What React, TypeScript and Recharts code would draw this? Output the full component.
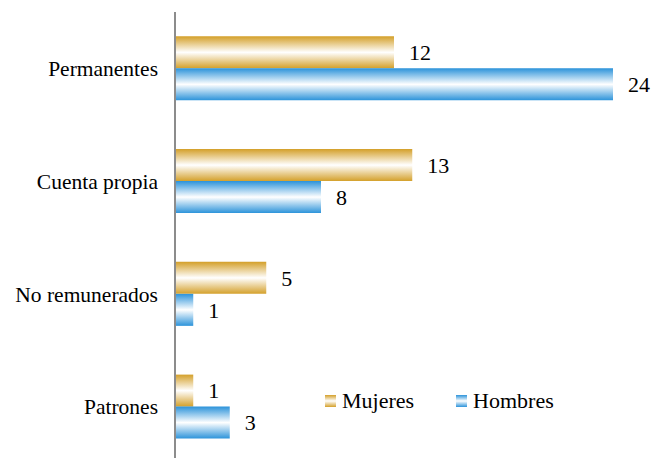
import { BarChart, Bar, XAxis, YAxis, LabelList } from 'recharts';

const categories = ['Permanentes', 'Cuenta propia', 'No remunerados', 'Patrones'];
const mujeres = [12, 13, 5, 1];
const hombres = [24, 8, 1, 3];

const GOLD = '#D4A02A';
const BLUE = '#2C93DA';
const SVG_FONT = 'Liberation Serif';
const HTML_FONT = '"Liberation Serif", monospace';

const chartData = categories.map((name, i) => ({
  name,
  mujeres: mujeres[i],
  hombres: hombres[i],
}));

function LegendSwatch({ id }: { id: string }) {
  return (
    <svg width={11} height={12} style={{ marginRight: 6 }}>
      <rect x={0} y={0} width={11} height={12} fill={`url(#${id})`} />
    </svg>
  );
}

export default function App() {
  return (
    <div style={{ position: 'absolute', left: 0, top: 0, width: 654, height: 458, overflow: 'hidden' }}>
      <BarChart
        width={654}
        height={463}
        data={chartData}
        layout="vertical"
        margin={{ top: 12, right: 41, bottom: 0, left: 0 }}
        barCategoryGap="21.6%"
        barGap={0}
      >
        <defs>
          <linearGradient id="gGold" x1="0" y1="0" x2="0" y2="1">
            <stop offset="0%" stopColor={GOLD} />
            <stop offset="50%" stopColor="#ffffff" />
            <stop offset="100%" stopColor={GOLD} />
          </linearGradient>
          <linearGradient id="gBlue" x1="0" y1="0" x2="0" y2="1">
            <stop offset="0%" stopColor={BLUE} />
            <stop offset="50%" stopColor="#ffffff" />
            <stop offset="100%" stopColor={BLUE} />
          </linearGradient>
        </defs>
        <XAxis type="number" domain={[0, 24]} hide />
        <YAxis
          type="category"
          dataKey="name"
          width={175}
          axisLine={{ stroke: '#8c8c8c', strokeWidth: 2 }}
          tickLine={false}
          tickMargin={11}
          tick={{ fontSize: 21.5, fill: '#000', fontFamily: SVG_FONT }}
        />
        <Bar dataKey="mujeres" fill="url(#gGold)" isAnimationActive={false}>
          <LabelList
            dataKey="mujeres"
            position="right"
            offset={15}
            fontFamily={SVG_FONT}
            fontSize={22}
            fill="#000"
          />
        </Bar>
        <Bar dataKey="hombres" fill="url(#gBlue)" isAnimationActive={false}>
          <LabelList
            dataKey="hombres"
            position="right"
            offset={15}
            fontFamily={SVG_FONT}
            fontSize={22}
            fill="#000"
          />
        </Bar>
      </BarChart>
      <div
        style={{
          position: 'absolute', left: 325, top: 388, display: 'flex',
          alignItems: 'center', fontSize: 22, color: '#000', fontFamily: HTML_FONT,
        }}
      >
        <span style={{ display: 'flex', alignItems: 'center', marginRight: 42 }}>
          <LegendSwatch id="gGold" />Mujeres
        </span>
        <span style={{ display: 'flex', alignItems: 'center' }}>
          <LegendSwatch id="gBlue" />Hombres
        </span>
      </div>
    </div>
  );
}
